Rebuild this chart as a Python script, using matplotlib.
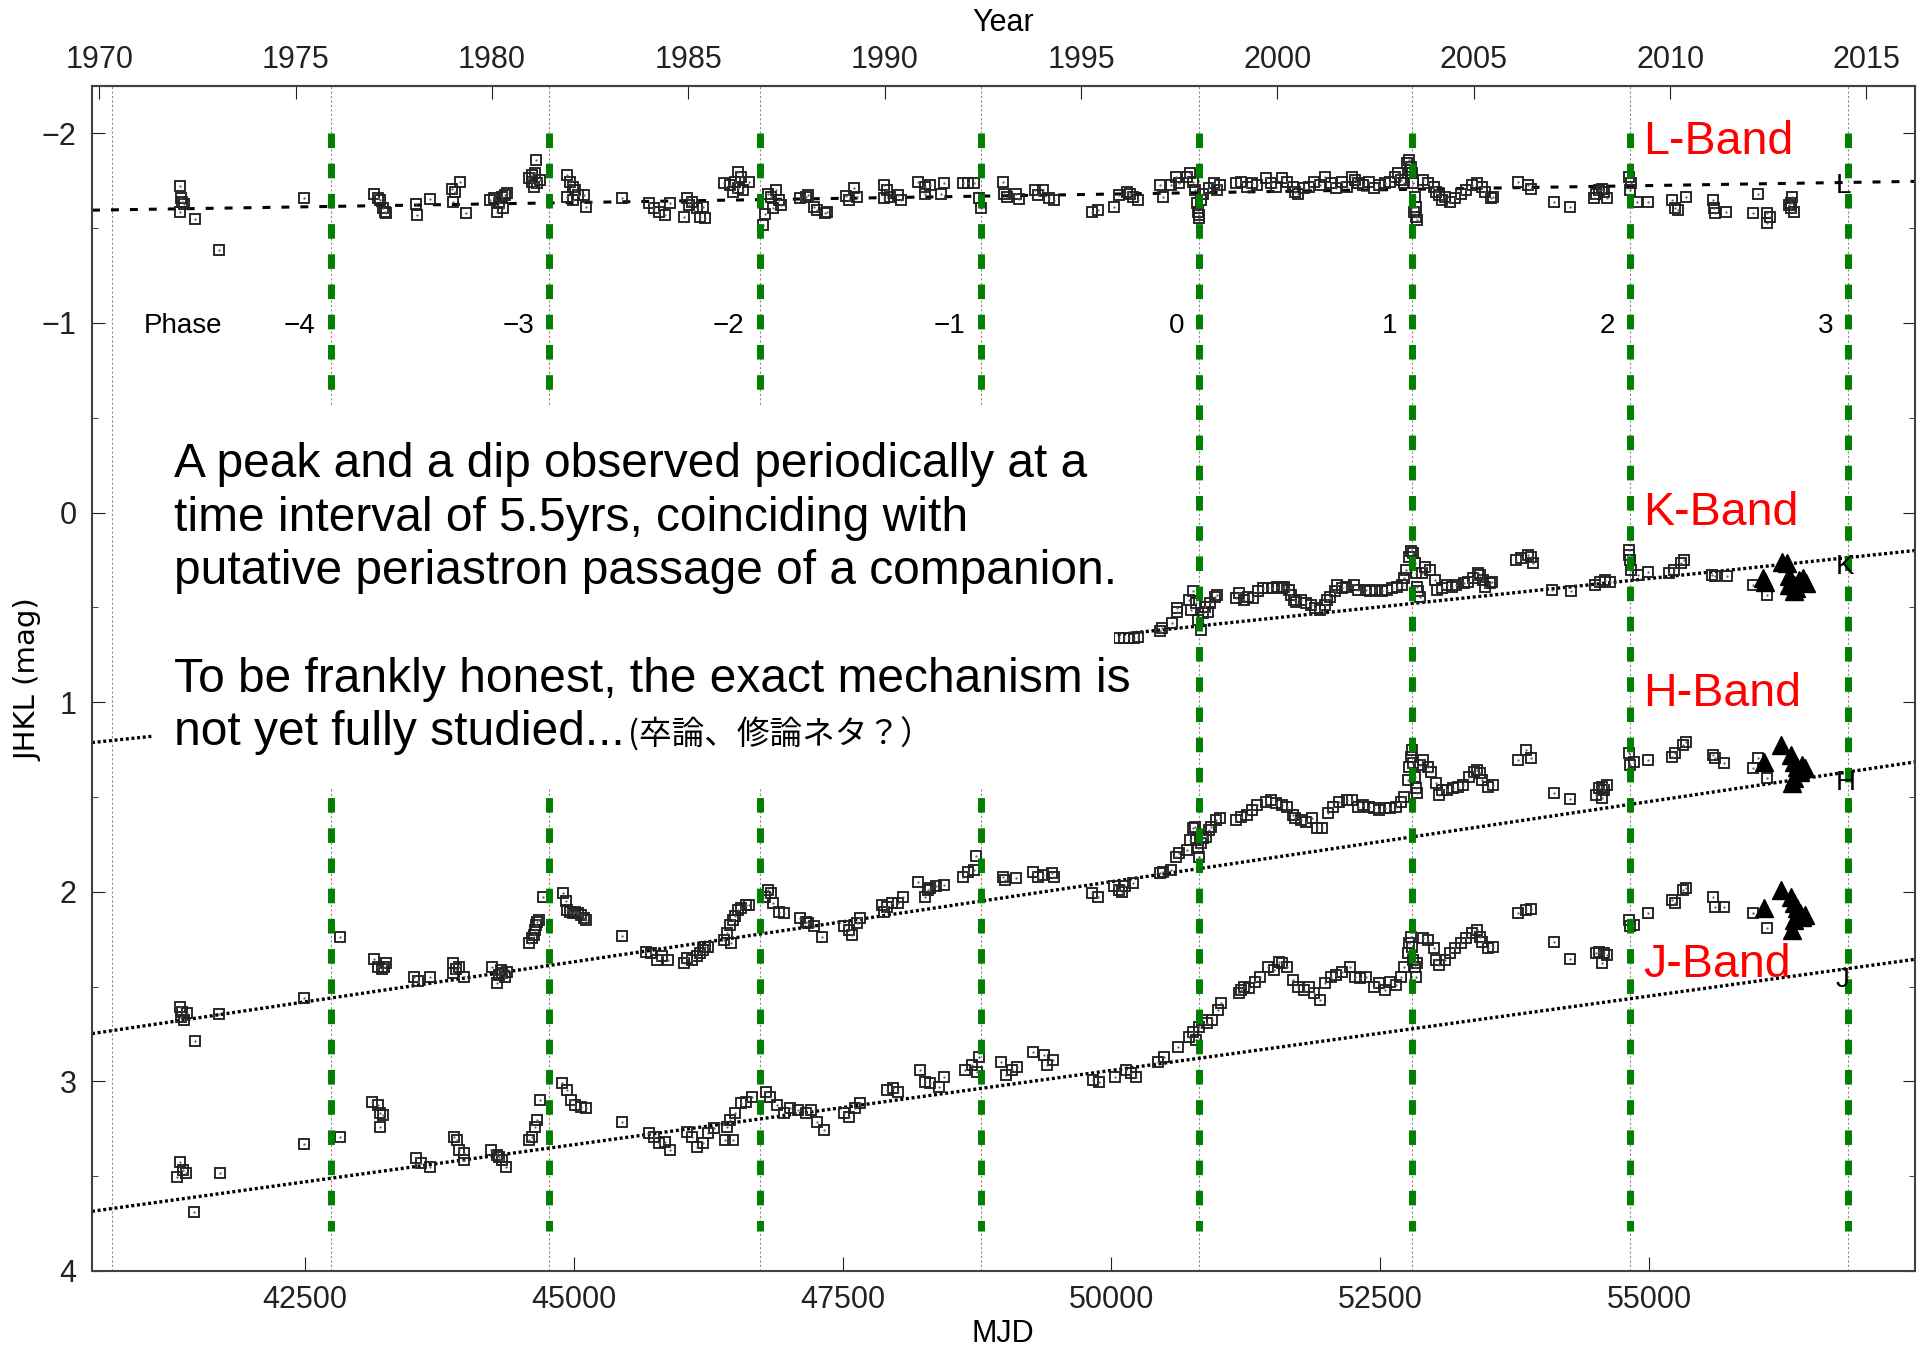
import numpy as np
import matplotlib
matplotlib.use('Agg')
import matplotlib.pyplot as plt
from matplotlib.patches import Rectangle
from matplotlib.ticker import MultipleLocator

plt.rcParams['font.family'] = ['Liberation Sans', 'DejaVu Sans']

# light curves, columns: MJD, magnitude
l_band = np.array([
    [41335, -1.722], [41345, -1.657], [41360, -1.640], [41371, -1.627], [41335, -1.587],
    [41476, -1.548], [41703, -1.385], [42495, -1.661],
    [43140, -1.678], [43175, -1.661], [43200, -1.648], [43226, -1.604], [43241, -1.587],
    [43251, -1.578], [43528, -1.627], [43543, -1.569], [43664, -1.652],
    [43871, -1.705], [43891, -1.692], [43941, -1.745], [43881, -1.640], [43997, -1.578],
    [44224, -1.648], [44259, -1.657], [44284, -1.587], [44309, -1.631], [44335, -1.666],
    [44360, -1.675], [44375, -1.687], [44345, -1.604],
    [44587, -1.763], [44612, -1.745], [44637, -1.789], [44647, -1.859], [44627, -1.719],
    [44662, -1.736], [44688, -1.754], [44612, -1.780],
    [44940, -1.780], [44965, -1.745], [44990, -1.719], [45015, -1.701], [45040, -1.675],
    [45091, -1.675], [45116, -1.613], [44940, -1.666], [44990, -1.648],
    [45444, -1.657],
    [45696, -1.631], [45746, -1.604], [45797, -1.587], [45847, -1.569], [45897, -1.631],
    [46049, -1.657], [46074, -1.622], [46099, -1.640], [46023, -1.560], [46149, -1.604],
    [46175, -1.560], [46225, -1.552], [46200, -1.613],
    [46401, -1.736], [46452, -1.727], [46502, -1.745], [46527, -1.798], [46553, -1.771],
    [46477, -1.692], [46578, -1.701], [46628, -1.745], [46527, -1.710],
    [46780, -1.574], [46764, -1.516], [46805, -1.683], [46830, -1.666], [46880, -1.701],
    [46906, -1.648], [46931, -1.622], [46855, -1.604],
    [47107, -1.657], [47158, -1.666], [47183, -1.675], [47233, -1.613], [47258, -1.596],
    [47334, -1.578], [47359, -1.587],
    [47536, -1.669], [47561, -1.648], [47611, -1.710], [47636, -1.666],
    [47889, -1.727], [47914, -1.701], [47939, -1.666], [48015, -1.675], [48040, -1.648],
    [47889, -1.657],
    [48206, -1.745], [48267, -1.719], [48317, -1.727], [48443, -1.736], [48418, -1.683],
    [48267, -1.683],
    [48620, -1.736], [48670, -1.736], [48720, -1.736], [48771, -1.657], [48786, -1.604],
    [48990, -1.745], [49005, -1.683], [49025, -1.666], [49116, -1.683], [49141, -1.652],
    [49293, -1.701], [49318, -1.675], [49368, -1.701], [49419, -1.657], [49469, -1.648],
    [49822, -1.587], [49872, -1.596], [50024, -1.613], [50074, -1.675], [50150, -1.692],
    [50200, -1.666], [50250, -1.648], [50175, -1.683],
    [50452, -1.727], [50477, -1.666], [50553, -1.727], [50603, -1.771], [50629, -1.736],
    [50704, -1.771], [50729, -1.789], [50755, -1.745],
    [50780, -1.701], [50795, -1.631], [50805, -1.587], [50815, -1.569], [50820, -1.552],
    [50830, -1.648], [50855, -1.683],
    [50906, -1.710], [50956, -1.736], [50981, -1.701], [51007, -1.727],
    [51158, -1.736], [51208, -1.745], [51259, -1.719], [51309, -1.736], [51359, -1.727],
    [51435, -1.763], [51486, -1.736], [51536, -1.719], [51586, -1.763], [51637, -1.745],
    [51687, -1.719], [51712, -1.692], [51738, -1.683], [51788, -1.710], [51838, -1.719],
    [51889, -1.745], [51939, -1.727], [51990, -1.771], [52040, -1.736], [52090, -1.710],
    [52141, -1.745], [52191, -1.719], [52242, -1.771], [52267, -1.754], [52292, -1.736],
    [52342, -1.727], [52393, -1.745], [52443, -1.710], [52494, -1.727], [52544, -1.736],
    [52595, -1.745], [52635, -1.771], [52670, -1.789], [52695, -1.754], [52721, -1.736],
    [52746, -1.842], [52771, -1.859], [52781, -1.807], [52786, -1.824], [52796, -1.789],
    [52806, -1.736], [52811, -1.587], [52822, -1.666], [52832, -1.613], [52837, -1.560],
    [52847, -1.543],
    [52897, -1.754], [52947, -1.736], [52998, -1.719], [53023, -1.692], [53048, -1.675],
    [53073, -1.648], [53099, -1.666], [53149, -1.640], [53199, -1.657], [53250, -1.683],
    [53300, -1.701], [53351, -1.727], [53401, -1.736], [53452, -1.719], [53477, -1.692],
    [53527, -1.657], [53552, -1.666],
    [53779, -1.745], [53880, -1.727], [53905, -1.705], [54117, -1.640], [54268, -1.613],
    [54485, -1.657], [54510, -1.683], [54535, -1.701], [54561, -1.705], [54586, -1.692],
    [54611, -1.657],
    [54813, -1.771], [54823, -1.701], [54838, -1.736], [54888, -1.640], [54989, -1.640],
    [55216, -1.648], [55241, -1.604], [55266, -1.596], [55342, -1.666],
    [55594, -1.648], [55609, -1.604], [55619, -1.578], [55720, -1.587],
    [55972, -1.578], [56012, -1.683], [56098, -1.578], [56098, -1.529], [56123, -1.560],
    [56300, -1.622], [56325, -1.631], [56335, -1.666], [56350, -1.587], [56325, -1.604],
])

k_band = np.array([
    [50073, 0.663], [50118, 0.663], [50162, 0.663], [50207, 0.663], [50251, 0.654],
    [50451, 0.627], [50474, 0.610], [50563, 0.584], [50607, 0.522], [50607, 0.504],
    [50718, 0.460], [50741, 0.513], [50763, 0.416], [50785, 0.478], [50807, 0.566],
    [50830, 0.619], [50852, 0.531], [50874, 0.496], [50896, 0.522], [50919, 0.478],
    [50963, 0.443], [50985, 0.434],
    [51163, 0.452], [51186, 0.425], [51230, 0.460], [51275, 0.443], [51319, 0.452],
    [51364, 0.416], [51408, 0.399], [51453, 0.399], [51497, 0.399], [51542, 0.390],
    [51586, 0.399], [51608, 0.390], [51653, 0.408], [51675, 0.434], [51697, 0.460],
    [51720, 0.469], [51764, 0.460], [51809, 0.478], [51853, 0.487], [51898, 0.504],
    [51942, 0.513], [51987, 0.487], [52009, 0.460], [52031, 0.443], [52076, 0.416],
    [52098, 0.381], [52142, 0.399], [52187, 0.390], [52254, 0.381], [52298, 0.408],
    [52365, 0.408], [52409, 0.416], [52454, 0.408], [52521, 0.416], [52565, 0.408],
    [52610, 0.399], [52654, 0.390], [52699, 0.381], [52721, 0.346], [52743, 0.302],
    [52765, 0.232], [52788, 0.205], [52810, 0.214], [52823, 0.267], [52832, 0.320],
    [52841, 0.390], [52854, 0.416], [52868, 0.443], [52885, 0.320], [52921, 0.285],
    [52966, 0.302], [53010, 0.355], [53032, 0.408], [53077, 0.399], [53121, 0.381],
    [53166, 0.390], [53210, 0.381], [53277, 0.373], [53322, 0.364], [53366, 0.346],
    [53411, 0.320], [53433, 0.329], [53455, 0.355], [53477, 0.390], [53522, 0.373],
    [53544, 0.364],
    [53767, 0.249], [53811, 0.241], [53878, 0.223], [53900, 0.232], [53922, 0.267],
    [54100, 0.408], [54278, 0.416],
    [54501, 0.381], [54545, 0.364], [54590, 0.355], [54634, 0.364],
    [54812, 0.197], [54812, 0.223], [54826, 0.249], [54835, 0.302],
    [54901, 0.329], [54990, 0.311], [55191, 0.320], [55235, 0.302], [55302, 0.267],
    [55324, 0.249],
    [55591, 0.329], [55613, 0.337], [55725, 0.337],
    [55969, 0.381], [56103, 0.434],
])
k_recent = np.array([
    [56058, 0.346], [56081, 0.364], [56236, 0.258], [56281, 0.267], [56303, 0.337],
    [56325, 0.364], [56348, 0.381], [56370, 0.399], [56392, 0.355], [56437, 0.346],
    [56459, 0.373], [56348, 0.416], [56303, 0.381],
])

h_band = np.array([
    [41335, 2.609], [41345, 2.658], [41371, 2.675], [41401, 2.640], [41360, 2.632],
    [41476, 2.786], [41703, 2.644], [42495, 2.558], [42822, 2.236],
    [43140, 2.355], [43175, 2.398], [43216, 2.408], [43236, 2.394], [43251, 2.377],
    [43518, 2.447], [43553, 2.473], [43664, 2.447],
    [43881, 2.377], [43906, 2.408], [43931, 2.394], [43982, 2.447], [43881, 2.429],
    [44244, 2.398], [44284, 2.482], [44309, 2.438], [44335, 2.429], [44360, 2.447],
    [44325, 2.412], [44375, 2.421],
    [44587, 2.271], [44612, 2.245], [44627, 2.227], [44637, 2.201], [44647, 2.174],
    [44662, 2.157], [44677, 2.148], [44713, 2.025],
    [44899, 2.007], [44930, 2.051], [44940, 2.095], [44965, 2.104], [44990, 2.113],
    [45015, 2.104], [45040, 2.113], [45066, 2.122], [45091, 2.139], [45116, 2.148],
    [45444, 2.231],
    [45671, 2.315], [45721, 2.324], [45771, 2.359], [45822, 2.341], [45872, 2.359],
    [46023, 2.377], [46049, 2.350], [46099, 2.359], [46149, 2.341], [46175, 2.324],
    [46200, 2.306], [46225, 2.289], [46250, 2.289],
    [46401, 2.254], [46427, 2.218], [46452, 2.174], [46462, 2.271], [46477, 2.148],
    [46502, 2.130], [46527, 2.095], [46553, 2.087], [46603, 2.069], [46628, 2.069],
    [46780, 2.025], [46805, 1.990], [46830, 2.007], [46855, 2.060], [46906, 2.104],
    [46956, 2.113],
    [47107, 2.139], [47158, 2.157], [47183, 2.166], [47233, 2.183], [47309, 2.236],
    [47510, 2.183], [47561, 2.201], [47586, 2.227], [47636, 2.166], [47662, 2.139],
    [47863, 2.069], [47889, 2.104], [47914, 2.078], [47964, 2.060], [48015, 2.060],
    [48065, 2.025],
    [48206, 1.946], [48267, 2.025], [48292, 1.990], [48317, 1.981], [48367, 1.972],
    [48443, 1.963],
    [48620, 1.920], [48670, 1.898], [48720, 1.884], [48745, 1.811],
    [48990, 1.920], [49015, 1.937], [49116, 1.929], [49267, 1.893], [49318, 1.920],
    [49368, 1.911], [49444, 1.902], [49469, 1.920],
    [49822, 2.008], [49872, 2.025], [50024, 1.972], [50074, 1.990], [50099, 1.999],
    [50124, 1.972], [50200, 1.955], [50452, 1.902], [50477, 1.893], [50553, 1.885],
    [50603, 1.814], [50629, 1.797], [50704, 1.779], [50729, 1.726], [50755, 1.665],
    [50780, 1.656], [50790, 1.726], [50805, 1.770], [50820, 1.814], [50830, 1.744],
    [50855, 1.718], [50881, 1.709], [50906, 1.674], [50931, 1.656], [50971, 1.621],
    [51007, 1.612],
    [51158, 1.621], [51208, 1.603], [51259, 1.595], [51309, 1.568], [51359, 1.542],
    [51435, 1.524], [51486, 1.515], [51536, 1.533], [51586, 1.542], [51637, 1.551],
    [51687, 1.595], [51712, 1.612], [51763, 1.621], [51813, 1.630], [51864, 1.612],
    [51914, 1.665], [51964, 1.665], [52015, 1.586], [52065, 1.551], [52116, 1.524],
    [52191, 1.515], [52242, 1.515], [52292, 1.551], [52342, 1.542], [52393, 1.551],
    [52443, 1.559], [52494, 1.568], [52544, 1.559], [52595, 1.559], [52645, 1.551],
    [52695, 1.524], [52721, 1.498],
    [52756, 1.410], [52771, 1.340], [52786, 1.287], [52796, 1.252], [52806, 1.322],
    [52822, 1.392], [52837, 1.454], [52847, 1.480], [52872, 1.331], [52897, 1.304],
    [52947, 1.340], [52973, 1.366],
    [53023, 1.428], [53048, 1.489], [53073, 1.463], [53124, 1.463], [53174, 1.454],
    [53225, 1.445], [53275, 1.436], [53325, 1.392], [53376, 1.366], [53401, 1.357],
    [53426, 1.375], [53452, 1.410], [53502, 1.445], [53552, 1.436],
    [53779, 1.304], [53855, 1.252], [53905, 1.296], [54117, 1.477], [54268, 1.510],
    [54510, 1.489], [54535, 1.454], [54561, 1.445], [54561, 1.507], [54586, 1.463],
    [54611, 1.436],
    [54813, 1.269], [54823, 1.331], [54863, 1.313], [54989, 1.304],
    [55216, 1.287], [55241, 1.269], [55317, 1.225], [55342, 1.208],
    [55594, 1.278], [55619, 1.296], [55695, 1.322],
    [55972, 1.348], [56012, 1.296], [56098, 1.401],
])
h_recent = np.array([
    [56073, 1.313], [56224, 1.225], [56325, 1.278], [56350, 1.313], [56375, 1.340],
    [56401, 1.366], [56426, 1.331], [56451, 1.348], [56350, 1.401], [56335, 1.428],
])

j_band = np.array([
    [41310, 3.502], [41340, 3.423], [41361, 3.467], [41391, 3.485], [41471, 3.687],
    [41713, 3.481], [42490, 3.330], [42823, 3.291],
    [43125, 3.107], [43176, 3.124], [43196, 3.168], [43226, 3.177], [43196, 3.239],
    [43529, 3.405], [43579, 3.432], [43660, 3.449],
    [43882, 3.291], [43912, 3.309], [43932, 3.362], [43982, 3.414], [43982, 3.379],
    [44234, 3.362], [44285, 3.388], [44305, 3.397], [44335, 3.414], [44366, 3.449],
    [44587, 3.309], [44607, 3.291], [44638, 3.239], [44658, 3.203], [44688, 3.098],
    [44890, 3.010], [44940, 3.045], [44971, 3.098], [45011, 3.124], [45071, 3.133],
    [45112, 3.142], [45445, 3.212],
    [45697, 3.274], [45747, 3.291], [45797, 3.326], [45848, 3.318], [45898, 3.362],
    [46050, 3.265], [46100, 3.291], [46150, 3.344], [46201, 3.326], [46251, 3.274],
    [46302, 3.247], [46403, 3.309], [46423, 3.239], [46453, 3.203], [46483, 3.309],
    [46503, 3.168], [46554, 3.115], [46604, 3.107], [46655, 3.080],
    [46786, 3.054], [46826, 3.080], [46887, 3.124], [46957, 3.168], [47008, 3.142],
    [47088, 3.150], [47159, 3.168], [47209, 3.150], [47260, 3.212], [47330, 3.256],
    [47512, 3.168], [47562, 3.186], [47613, 3.142], [47663, 3.115],
    [47915, 3.045], [47966, 3.036], [48016, 3.054], [48218, 2.940], [48268, 3.001],
    [48318, 3.010], [48399, 3.027], [48439, 2.975],
    [48641, 2.940], [48701, 2.913], [48752, 2.948], [48772, 2.869],
    [48974, 2.896], [49024, 2.966], [49075, 2.940], [49125, 2.922], [49276, 2.843],
    [49377, 2.861], [49397, 2.913], [49458, 2.887],
    [49831, 2.992], [49882, 3.001], [50033, 2.975], [50134, 2.940], [50184, 2.957],
    [50234, 2.975],
    [50436, 2.896], [50487, 2.869], [50618, 2.817], [50719, 2.764], [50759, 2.737],
    [50789, 2.781], [50819, 2.711], [50839, 2.676], [50890, 2.694], [50940, 2.676],
    [50990, 2.623], [51021, 2.588],
    [51183, 2.535], [51208, 2.517], [51233, 2.500], [51284, 2.509], [51334, 2.474],
    [51385, 2.447], [51460, 2.394], [51511, 2.412], [51561, 2.368], [51586, 2.377],
    [51637, 2.394], [51687, 2.465], [51738, 2.500], [51788, 2.517], [51838, 2.500],
    [51889, 2.535], [51939, 2.570], [51990, 2.482], [52040, 2.447], [52090, 2.438],
    [52141, 2.421], [52216, 2.394], [52267, 2.447], [52317, 2.456], [52367, 2.447],
    [52443, 2.500], [52494, 2.482], [52544, 2.517], [52595, 2.474], [52645, 2.491],
    [52695, 2.447], [52721, 2.394],
    [52756, 2.324], [52771, 2.271], [52786, 2.236], [52796, 2.289], [52806, 2.359],
    [52822, 2.394], [52837, 2.447], [52847, 2.377], [52897, 2.245], [52947, 2.254],
    [52998, 2.298], [53023, 2.359], [53048, 2.386], [53099, 2.359], [53149, 2.324],
    [53199, 2.298], [53250, 2.271], [53300, 2.245], [53351, 2.219], [53401, 2.201],
    [53426, 2.236], [53452, 2.263], [53502, 2.298], [53552, 2.289],
    [53779, 2.113], [53855, 2.096], [53905, 2.092], [54117, 2.263], [54268, 2.356],
    [54510, 2.324], [54535, 2.315], [54561, 2.377], [54586, 2.324], [54611, 2.333],
    [54813, 2.148], [54823, 2.183], [54863, 2.175], [54989, 2.113],
    [55216, 2.043], [55241, 2.060], [55317, 1.990], [55342, 1.981],
    [55594, 2.025], [55619, 2.078], [55695, 2.078],
    [55972, 2.113], [56098, 2.192],
])
j_recent = np.array([
    [56073, 2.087], [56224, 1.990], [56325, 2.025], [56350, 2.060], [56375, 2.087],
    [56401, 2.113], [56426, 2.131], [56451, 2.122], [56350, 2.148], [56335, 2.201],
])

# linear trends, evaluated at the plot edges
trend_mjd = [40519, 57475]
l_trend = [-1.595, -1.747]
k_trend = [1.213, 0.200]
h_trend = [2.748, 1.315]
j_trend = [3.685, 2.356]

# periastron epochs and their phase numbers
phase_mjd = [40705, 42738, 44774, 46730, 48787, 50815, 52796, 54823, 56854]
phase_num = ['', '\u22124', '\u22123', '\u22122', '\u22121', '0', '1', '2', '3']

band_names = ['L', 'K', 'H', 'J']
band_label_mag = [-1.892, 0.065, 1.019, 2.449]
short_label_mag = [-1.686, 0.323, 1.462, 2.501]

W, H = 1920, 1349


def fx(px):
    return px / W


def fy(py):
    return 1 - py / H


def mjd_to_year(m):
    return 2000.0 + (np.asarray(m, dtype=float) - 51544.5) / 365.25


def year_to_mjd(y):
    return 51544.5 + (np.asarray(y, dtype=float) - 2000.0) * 365.25


fig = plt.figure(figsize=(W / 100, H / 100), dpi=100)
ax = fig.add_axes([fx(92), fy(1271), fx(1915) - fx(92), fy(86) - fy(1271)])

# phase markers
for m in phase_mjd:
    ax.axvline(m, color='#8c8c8c', lw=0.8, ls=(0, (2, 2)), zorder=1.5)
for m in phase_mjd[1:]:
    ax.plot([m, m], [-2.0, 3.79], color='#008000', lw=5, dashes=(2.1, 2.25),
            zorder=4)

# trend lines
ax.plot(trend_mjd, l_trend, color='black', lw=2.2, dashes=(2.6, 3.6), zorder=2)
for tr in (k_trend, h_trend, j_trend):
    ax.plot(trend_mjd, tr, color='black', lw=2.4, dashes=(0.9, 0.8), zorder=2)

sq = dict(ls='none', marker='s', ms=6.6, mfc='none', mec='#222222', mew=1.35, zorder=3)
dot = dict(ls='none', marker='.', ms=1.2, color='#555555', zorder=3)
for d in (l_band, k_band, h_band, j_band):
    ax.plot(d[:, 0], d[:, 1], **sq)
    ax.plot(d[:, 0], d[:, 1], **dot)
for d in (k_recent, h_recent, j_recent):
    ax.plot(d[:, 0], d[:, 1], ls='none', marker='^', ms=12.5, color='black', zorder=3)

ax.set_xlim(trend_mjd[0], trend_mjd[1])
ax.set_ylim(4, -2.25)
ax.set_xticks([42500, 45000, 47500, 50000, 52500, 55000])
ax.set_yticks([-2, -1, 0, 1, 2, 3, 4])
ax.yaxis.set_minor_locator(MultipleLocator(0.5))

ax.tick_params(axis='both', which='both', direction='in', labelsize=22,
               colors='#222222')
ax.tick_params(axis='y', which='major', length=9, right=True, pad=11)
ax.tick_params(axis='y', which='minor', length=4.5, right=True)
ax.tick_params(axis='x', which='major', length=10, pad=10)
for s in ax.spines.values():
    s.set_color('#404040')
    s.set_linewidth(1.5)

sec = ax.secondary_xaxis('top', functions=(mjd_to_year, year_to_mjd))
sec.set_xticks(np.arange(1970, 2016, 5))
sec.tick_params(direction='in', length=9, labelsize=22, pad=8, colors='#222222')
sec.spines['top'].set_color('#404040')
sec.spines['top'].set_linewidth(1.5)

# phase numbering
ax.text(41002, -0.948, 'Phase', fontsize=20, va='baseline', ha='left')
for m, p in zip(phase_mjd, phase_num):
    if p:
        ax.text(m - 140, -0.948, p, fontsize=20, va='baseline', ha='right')

# band labels
for name, y1, y2 in zip(band_names, band_label_mag, short_label_mag):
    ax.text(54945, y1, name + '-Band', color='red', fontsize=33.5, va='baseline')
    ax.text(56735, y2, name, color='black', fontsize=20, va='baseline', zorder=4.5)

# axis titles
fig.text(fx(1003), fy(23), 'Year', ha='center', va='center', fontsize=22)
fig.text(fx(1003), fy(1334), 'MJD', ha='center', va='center', fontsize=22)
fig.text(fx(29), fy(680), 'JHKL (mag)', ha='center', va='center', fontsize=21,
         rotation=90, family='DejaVu Sans')

# note box
fig.add_artist(Rectangle((fx(153), fy(788)), fx(1114) - fx(153), fy(405) - fy(788),
                         transform=fig.transFigure, facecolor='white',
                         edgecolor='none', zorder=5))
note = [
    (477, 'A peak and a dip observed periodically at a'),
    (531, 'time interval of 5.5yrs, coinciding with'),
    (584, 'putative periastron passage of a companion.'),
    (692, 'To be frankly honest, the exact mechanism is'),
    (745, 'not yet fully studied...'),
]
last = None
for yb, s in note:
    last = fig.text(fx(174), fy(yb), s, fontsize=34.5, va='baseline', ha='left',
                    zorder=6)
fig.canvas.draw()
bb = last.get_window_extent()
fig.text(fx(bb.x1 + 3), fy(745), '(卒論、修論ネタ？）', fontsize=23.5, va='baseline',
         ha='left', family=['Noto Sans CJK JP', 'DejaVu Sans'], zorder=6)

fig.savefig('out.png', dpi=100)
